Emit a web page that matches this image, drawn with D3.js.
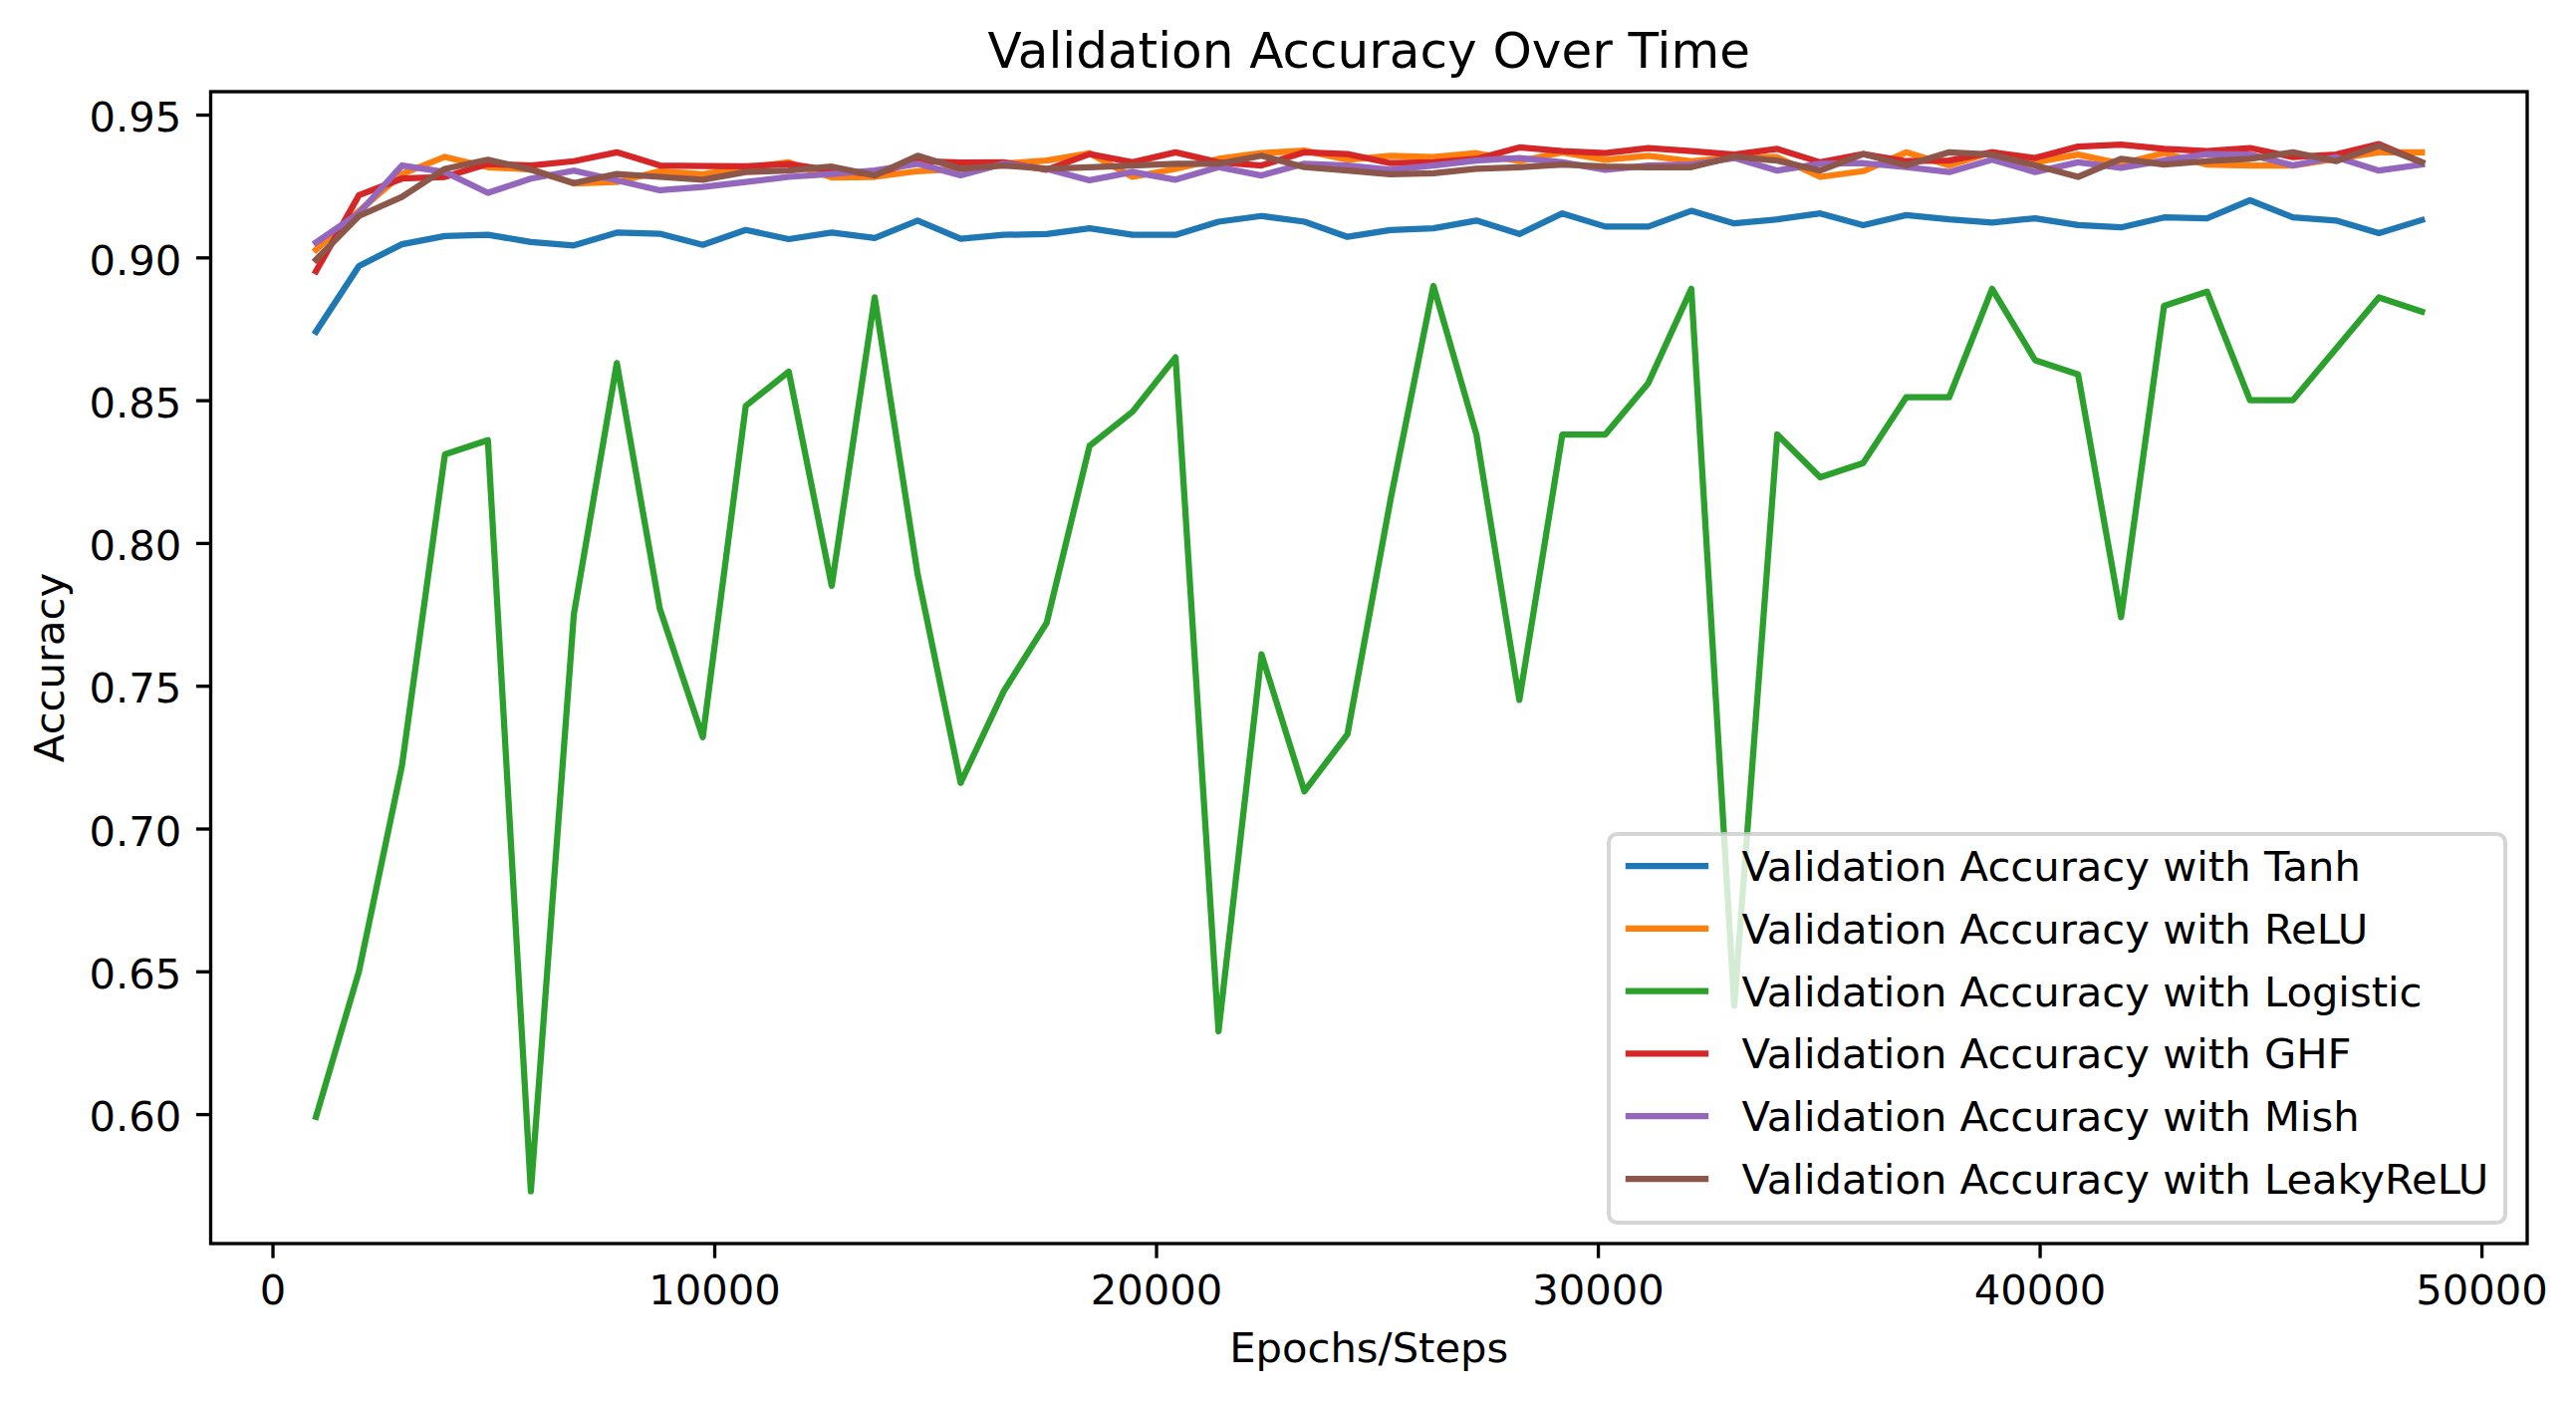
<!DOCTYPE html>
<html>
<head>
<meta charset="utf-8">
<script src="https://cdn.jsdelivr.net/npm/d3@7"></script>
<style>
  body { margin: 0; background: #fff; }
  svg { display: block; }
</style>
</head>
<body>
<svg id="chart" width="2586" height="1407"></svg>
<script>
// validation steps (x)
var steps = [985, 1958, 2931, 3903, 4876, 5849, 6822, 7795, 8767, 9740,
  10713, 11686, 12659, 13631, 14604, 15577, 16550, 17523, 18495, 19468,
  20441, 21414, 22387, 23359, 24332, 25305, 26278, 27251, 28223, 29196,
  30169, 31142, 32115, 33087, 34060, 35033, 36006, 36979, 37951, 38924,
  39897, 40870, 41843, 42815, 43788, 44761, 45734, 46707, 47679, 48652];

var tanhAcc = [0.874, 0.897, 0.9046, 0.9075, 0.9079, 0.9054, 0.9042, 0.9087, 0.9083, 0.9044,
  0.9096, 0.9064, 0.9087, 0.9068, 0.9129, 0.9065, 0.9079, 0.9082, 0.9102, 0.9079,
  0.9079, 0.9125, 0.9145, 0.9125, 0.9072, 0.9096, 0.9102, 0.9129, 0.9082, 0.9154,
  0.9108, 0.9108, 0.9163, 0.9119, 0.9133, 0.9154, 0.9113, 0.9148, 0.9133, 0.9122,
  0.9137, 0.9113, 0.9105, 0.914, 0.9137, 0.92, 0.914, 0.9129, 0.9085, 0.9131];

var reluAcc = [0.9027, 0.9162, 0.9292, 0.9352, 0.9316, 0.9308, 0.9259, 0.9264, 0.9302, 0.9291,
  0.9314, 0.9333, 0.928, 0.9282, 0.9302, 0.931, 0.9328, 0.9339, 0.9365, 0.9282,
  0.931, 0.9345, 0.9365, 0.9374, 0.9342, 0.9356, 0.9351, 0.9365, 0.9337, 0.9368,
  0.9342, 0.9356, 0.9337, 0.9351, 0.9351, 0.9282, 0.9302, 0.9368, 0.9322, 0.9368,
  0.9333, 0.936, 0.9328, 0.9365, 0.9325, 0.9322, 0.9322, 0.9345, 0.9368, 0.9368];

var logisticAcc = [0.599, 0.650, 0.722, 0.831, 0.836, 0.573, 0.775, 0.863, 0.777, 0.732,
  0.848, 0.860, 0.785, 0.886, 0.789, 0.716, 0.748, 0.772, 0.834, 0.846,
  0.865, 0.629, 0.761, 0.713, 0.733, 0.815, 0.890, 0.838, 0.745, 0.838,
  0.838, 0.856, 0.889, 0.638, 0.838, 0.823, 0.828, 0.851, 0.851, 0.889,
  0.864, 0.859, 0.774, 0.883, 0.888, 0.850, 0.850, 0.868, 0.886, 0.881];

var ghfAcc = [0.8951, 0.9218, 0.9276, 0.9282, 0.9327, 0.9322, 0.9337, 0.9368, 0.9322, 0.932,
  0.9319, 0.9327, 0.9304, 0.9292, 0.9337, 0.9332, 0.9333, 0.9307, 0.9362, 0.9333,
  0.9368, 0.9333, 0.9322, 0.9368, 0.9362, 0.933, 0.9333, 0.9345, 0.9385, 0.9372,
  0.9365, 0.9383, 0.9372, 0.936, 0.938, 0.9333, 0.9362, 0.9337, 0.9339, 0.9368,
  0.9348, 0.9388, 0.9395, 0.938, 0.9372, 0.9383, 0.9351, 0.936, 0.9397, 0.9333];

var mishAcc = [0.9052, 0.9155, 0.9322, 0.9299, 0.9226, 0.9276, 0.9304, 0.927, 0.9235, 0.9247,
  0.9264, 0.9282, 0.9292, 0.9304, 0.9328, 0.9287, 0.9328, 0.931, 0.927, 0.9299,
  0.9272, 0.9316, 0.9287, 0.9328, 0.9322, 0.9307, 0.9322, 0.9339, 0.9348, 0.9333,
  0.9307, 0.9322, 0.9325, 0.9348, 0.9304, 0.9328, 0.933, 0.9316, 0.9299, 0.9342,
  0.9299, 0.9333, 0.9314, 0.9339, 0.9362, 0.936, 0.9322, 0.9351, 0.9304, 0.9325];

var leakyAcc = [0.8992, 0.9145, 0.9212, 0.931, 0.9342, 0.9307, 0.926, 0.9292, 0.9282, 0.9272,
  0.9299, 0.9304, 0.9318, 0.9287, 0.9356, 0.931, 0.9322, 0.931, 0.9316, 0.9322,
  0.9328, 0.9328, 0.9356, 0.9316, 0.9304, 0.9291, 0.9295, 0.931, 0.9316, 0.9325,
  0.9318, 0.9316, 0.9316, 0.9353, 0.9339, 0.9304, 0.9362, 0.9322, 0.9368, 0.936,
  0.9322, 0.9282, 0.9345, 0.9325, 0.9337, 0.9345, 0.9368, 0.9337, 0.9391, 0.9333];

var seriesNames = ["Validation Accuracy with Tanh", "Validation Accuracy with ReLU",
  "Validation Accuracy with Logistic", "Validation Accuracy with GHF",
  "Validation Accuracy with Mish", "Validation Accuracy with LeakyReLU"];
var seriesColors = ["#1f77b4", "#ff7f0e", "#2ca02c", "#d62728", "#9467bd", "#8c564b"];

var xTicks = [0, 10000, 20000, 30000, 40000, 50000];
var yTicks = [0.60, 0.65, 0.70, 0.75, 0.80, 0.85, 0.90, 0.95];

var allSeries = [tanhAcc, reluAcc, logisticAcc, ghfAcc, mishAcc, leakyAcc];

// matplotlib-ish sizes (300 dpi)
var fs = 41.7, lw = 6.25, spineW = 3.33, tickLen = 14.6, tickPad = 14.6;
var margin = {left: 211.5, right: 2537, top: 92, bottom: 1248};
var font = "'DejaVu Sans', 'Liberation Sans', sans-serif";

var svg = d3.select("#chart");

// 5% margins like matplotlib autoscale
var xExt = d3.extent(steps);
var xPad = (xExt[1] - xExt[0]) * 0.05;
var x = d3.scaleLinear()
  .domain([xExt[0] - xPad, xExt[1] + xPad])
  .range([margin.left, margin.right]);

var yExt = d3.extent(d3.merge(allSeries));
var yPad = (yExt[1] - yExt[0]) * 0.05;
var y = d3.scaleLinear()
  .domain([yExt[0] - yPad, yExt[1] + yPad])
  .range([margin.bottom, margin.top]);

var line = d3.line()
  .x(function(d, i) { return x(steps[i]); })
  .y(function(d) { return y(d); });

// lines
svg.append("g")
  .selectAll("path")
  .data(allSeries)
  .enter().append("path")
  .attr("d", function(d) { return line(d); })
  .attr("fill", "none")
  .attr("stroke", function(d, i) { return seriesColors[i]; })
  .attr("stroke-width", lw)
  .attr("stroke-linejoin", "round")
  .attr("stroke-linecap", "square");

// spines
svg.append("rect")
  .attr("x", margin.left)
  .attr("y", margin.top)
  .attr("width", margin.right - margin.left)
  .attr("height", margin.bottom - margin.top)
  .attr("fill", "none")
  .attr("stroke", "#000")
  .attr("stroke-width", spineW);

// x axis
var gx = svg.append("g")
  .attr("transform", "translate(0," + margin.bottom + ")")
  .call(d3.axisBottom(x).tickValues(xTicks).tickFormat(d3.format("d"))
    .tickSize(tickLen).tickSizeOuter(0).tickPadding(tickPad));
gx.select(".domain").remove();
gx.selectAll(".tick line").attr("stroke-width", spineW);
gx.selectAll(".tick text")
  .attr("y", tickLen + tickPad)
  .attr("dy", "0.76em")
  .style("font-family", font)
  .style("font-size", fs + "px")
  .attr("fill", "#000");

// y axis
var gy = svg.append("g")
  .attr("transform", "translate(" + margin.left + ",0)")
  .call(d3.axisLeft(y).tickValues(yTicks).tickFormat(d3.format(".2f"))
    .tickSize(tickLen).tickSizeOuter(0).tickPadding(tickPad));
gy.select(".domain").remove();
gy.selectAll(".tick line").attr("stroke-width", spineW);
gy.selectAll(".tick text")
  .attr("dy", "0.4em")
  .style("font-family", font)
  .style("font-size", fs + "px")
  .attr("fill", "#000");

// title + labels
var cx = (margin.left + margin.right) / 2;
svg.append("text")
  .attr("x", cx)
  .attr("y", 68)
  .attr("text-anchor", "middle")
  .style("font-family", font)
  .style("font-size", "50px")
  .text("Validation Accuracy Over Time");

svg.append("text")
  .attr("x", cx)
  .attr("y", 1367)
  .attr("text-anchor", "middle")
  .style("font-family", font)
  .style("font-size", fs + "px")
  .text("Epochs/Steps");

svg.append("text")
  .attr("transform", "translate(64," + ((margin.top + margin.bottom) / 2) + ") rotate(-90)")
  .attr("text-anchor", "middle")
  .style("font-family", font)
  .style("font-size", fs + "px")
  .text("Accuracy");

// legend (lower right)
var legRight = 2515, legBottom = 1227, rowStep = 62.8, firstRow = 869;
var legend = svg.append("g");
var frame = legend.append("rect")
  .attr("rx", 8.3).attr("ry", 8.3)
  .attr("fill", "#fff")
  .attr("fill-opacity", 0.8)
  .attr("stroke", "#cccccc")
  .attr("stroke-opacity", 0.8)
  .attr("stroke-width", 4.17);

var rows = legend.selectAll("g.row")
  .data(seriesNames)
  .enter().append("g")
  .attr("class", "row")
  .attr("transform", function(d, i) { return "translate(0," + (firstRow + i * rowStep) + ")"; });

var labelTexts = rows.append("text")
  .attr("dy", 15)
  .style("font-family", font)
  .style("font-size", fs + "px")
  .text(function(d) { return d; });

var maxW = d3.max(labelTexts.nodes(), function(n) { return n.getComputedTextLength(); });
var borderPad = 0.4 * fs, handleLen = 2 * fs, handleGap = 0.8 * fs;
var textX = legRight - borderPad - maxW;
var handleX = textX - handleGap - handleLen;
var legLeft = handleX - borderPad;

labelTexts.attr("x", textX);
rows.append("line")
  .attr("x1", handleX)
  .attr("x2", handleX + handleLen)
  .attr("stroke", function(d, i) { return seriesColors[i]; })
  .attr("stroke-width", lw);

frame.attr("x", legLeft)
  .attr("y", 837)
  .attr("width", legRight - legLeft)
  .attr("height", legBottom - 837);
</script>
</body>
</html>
